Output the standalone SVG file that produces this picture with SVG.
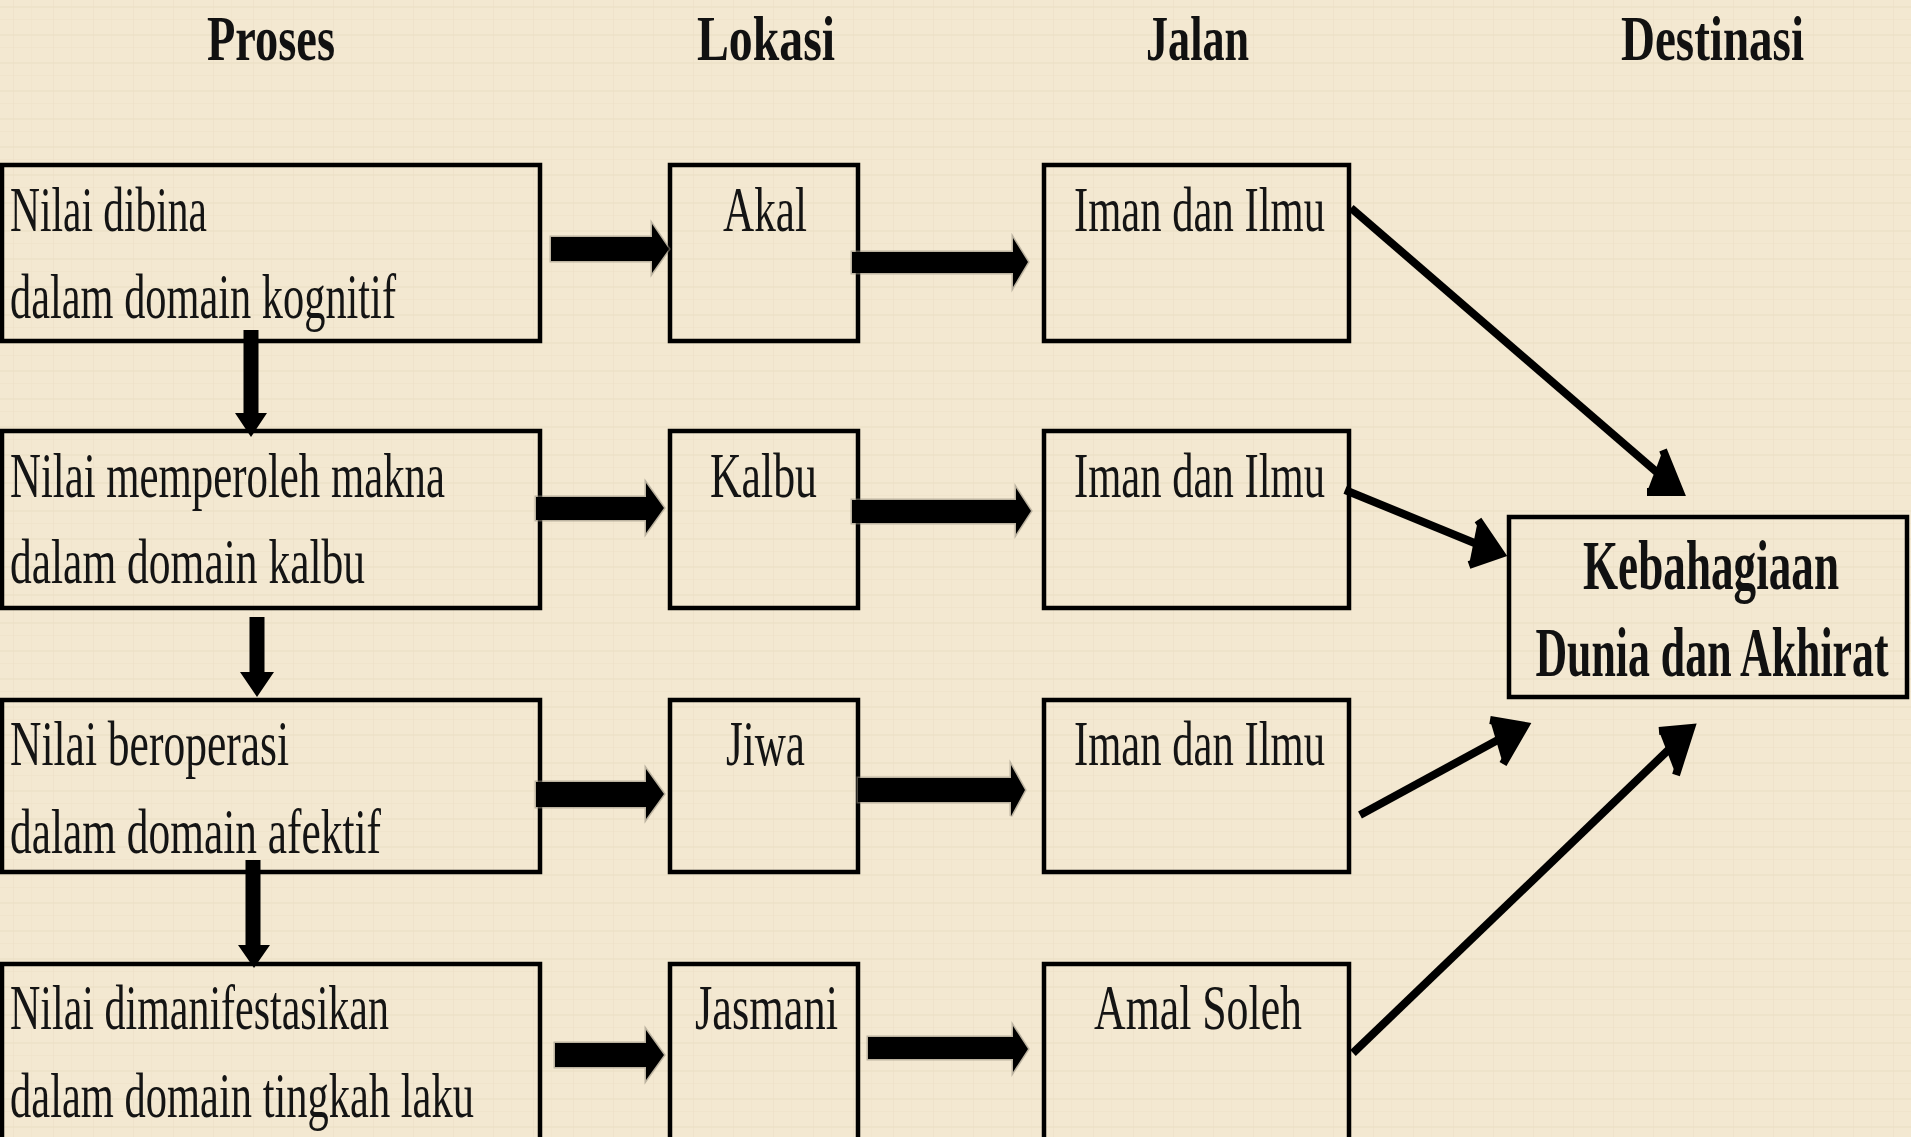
<svg xmlns="http://www.w3.org/2000/svg" width="1911" height="1137" viewBox="0 0 1911 1137">
<defs>
<pattern id="tex" width="40" height="28" patternUnits="userSpaceOnUse">
<rect width="40" height="28" fill="#F3E8D1"/>
<rect x="0" y="6" width="40" height="2" fill="#EADDC4" opacity="0.5"/>
<rect x="0" y="19" width="40" height="1" fill="#EBDFC6" opacity="0.4"/>
<rect x="13" y="0" width="1" height="28" fill="#EBDDC4" opacity="0.45"/>
<rect x="31" y="0" width="1" height="28" fill="#EDE0C8" opacity="0.4"/>
</pattern>
<style>
.box{fill:none;stroke:#000;stroke-width:4.5}
.t{font-family:"Liberation Serif","Times New Roman",serif;font-size:64px;fill:#141414}
.h{font-family:"Liberation Serif","Times New Roman",serif;font-size:64px;font-weight:bold;fill:#111}
.d{font-family:"Liberation Serif","Times New Roman",serif;font-size:70px;font-weight:bold;fill:#111;text-anchor:middle}
.blk{fill:#000;stroke:#8f897a;stroke-opacity:0.55;stroke-width:3;paint-order:stroke}
.vblk{fill:#000}
.ln{fill:none;stroke:#000;stroke-width:8}
.hd{fill:#000;stroke:#000;stroke-width:8;stroke-linejoin:miter}
</style>
</defs>
<rect width="1911" height="1137" fill="url(#tex)"/>

<g id="headers">
<text class="h" x="207" y="60" textLength="128" lengthAdjust="spacingAndGlyphs">Proses</text>
<text class="h" x="697" y="60" textLength="138" lengthAdjust="spacingAndGlyphs">Lokasi</text>
<text class="h" x="1146" y="60" textLength="103" lengthAdjust="spacingAndGlyphs">Jalan</text>
<text class="h" x="1621" y="60" textLength="183" lengthAdjust="spacingAndGlyphs">Destinasi</text>
</g>

<g id="proses1">
<rect class="box" x="2" y="165" width="538" height="176"/>
<text class="t" x="10" y="231" textLength="197" lengthAdjust="spacingAndGlyphs">Nilai dibina</text>
<text class="t" x="10" y="318" textLength="386" lengthAdjust="spacingAndGlyphs">dalam domain kognitif</text>
</g>
<g id="lokasi1">
<rect class="box" x="670" y="165" width="188" height="176"/>
<text class="t" x="723" y="231" textLength="84" lengthAdjust="spacingAndGlyphs">Akal</text>
</g>
<g id="jalan1">
<rect class="box" x="1044" y="165" width="305" height="176"/>
<text class="t" x="1074" y="231" textLength="251" lengthAdjust="spacingAndGlyphs">Iman dan Ilmu</text>
</g>

<g id="proses2">
<rect class="box" x="2" y="431" width="538" height="177"/>
<text class="t" x="10" y="497" textLength="435" lengthAdjust="spacingAndGlyphs">Nilai memperoleh makna</text>
<text class="t" x="10" y="583" textLength="355" lengthAdjust="spacingAndGlyphs">dalam domain kalbu</text>
</g>
<g id="lokasi2">
<rect class="box" x="670" y="431" width="188" height="177"/>
<text class="t" x="710" y="497" textLength="107" lengthAdjust="spacingAndGlyphs">Kalbu</text>
</g>
<g id="jalan2">
<rect class="box" x="1044" y="431" width="305" height="177"/>
<text class="t" x="1074" y="497" textLength="251" lengthAdjust="spacingAndGlyphs">Iman dan Ilmu</text>
</g>

<g id="proses3">
<rect class="box" x="2" y="700" width="538" height="172"/>
<text class="t" x="10" y="765" textLength="279" lengthAdjust="spacingAndGlyphs">Nilai beroperasi</text>
<text class="t" x="10" y="853" textLength="371" lengthAdjust="spacingAndGlyphs">dalam domain afektif</text>
</g>
<g id="lokasi3">
<rect class="box" x="670" y="700" width="188" height="172"/>
<text class="t" x="726" y="765" textLength="79" lengthAdjust="spacingAndGlyphs">Jiwa</text>
</g>
<g id="jalan3">
<rect class="box" x="1044" y="700" width="305" height="172"/>
<text class="t" x="1074" y="765" textLength="251" lengthAdjust="spacingAndGlyphs">Iman dan Ilmu</text>
</g>

<g id="proses4">
<rect class="box" x="2" y="964" width="538" height="200"/>
<text class="t" x="10" y="1029" textLength="379" lengthAdjust="spacingAndGlyphs">Nilai dimanifestasikan</text>
<text class="t" x="10" y="1117" textLength="464" lengthAdjust="spacingAndGlyphs">dalam domain tingkah laku</text>
</g>
<g id="lokasi4">
<rect class="box" x="670" y="964" width="188" height="200"/>
<text class="t" x="695" y="1029" textLength="143" lengthAdjust="spacingAndGlyphs">Jasmani</text>
</g>
<g id="jalan4">
<rect class="box" x="1044" y="964" width="305" height="200"/>
<text class="t" x="1094" y="1029" textLength="208" lengthAdjust="spacingAndGlyphs">Amal Soleh</text>
</g>

<g id="destinasi">
<rect class="box" x="1509" y="517" width="398" height="180"/>
<text class="d" transform="translate(1711,589) scale(0.66,1)" x="0" y="0" textLength="388" lengthAdjust="spacingAndGlyphs">Kebahagiaan</text>
<text class="d" transform="translate(1712,676) scale(0.66,1)" x="0" y="0" textLength="535" lengthAdjust="spacingAndGlyphs">Dunia dan Akhirat</text>
</g>

<g id="connectors">
<polygon class="blk" points="551,237 652,237 652,224 669,249 652,273 652,261 551,261"/>
<polygon class="blk" points="852,252 1013,252 1013,238 1028,262 1013,287 1013,273 852,273"/>
<polygon class="blk" points="536,497 646,497 646,483 664,508 646,533 646,520 536,520"/>
<polygon class="blk" points="852,500 1016,500 1016,488 1031,511 1016,534 1016,523 852,523"/>
<polygon class="blk" points="536,782 646,782 646,769 664,794 646,819 646,807 536,807"/>
<polygon class="blk" points="858,778 1011,778 1011,765 1025,790 1011,816 1011,802 858,802"/>
<polygon class="blk" points="555,1043 646,1043 646,1030 664,1055 646,1080 646,1067 555,1067"/>
<polygon class="blk" points="868,1037 1013,1037 1013,1026 1028,1049 1013,1072 1013,1059 868,1059"/>
<polygon class="vblk" points="243.5,330 258.5,330 258.5,413 267,413 251,437 235,413 243.5,413"/>
<polygon class="vblk" points="249.5,617 264.5,617 264.5,672 274,672 257,697 240,672 249.5,672"/>
<polygon class="vblk" points="245.5,860 260.5,860 260.5,945 270,945 254,968 238,945 245.5,945"/>
<line class="ln" x1="1351" y1="208" x2="1674" y2="487"/>
<polyline class="hd" points="1663,450 1680,492 1647,492"/>
<line class="ln" x1="1345" y1="490" x2="1494" y2="551"/>
<polyline class="hd" points="1478,520 1501,554 1469,565"/>
<line class="ln" x1="1360" y1="815" x2="1518" y2="729"/>
<polyline class="hd" points="1490,720 1525,726 1503,764"/>
<line class="ln" x1="1353" y1="1053" x2="1686" y2="733"/>
<polyline class="hd" points="1659,731 1691,728 1676,775"/>
</g>
</svg>
